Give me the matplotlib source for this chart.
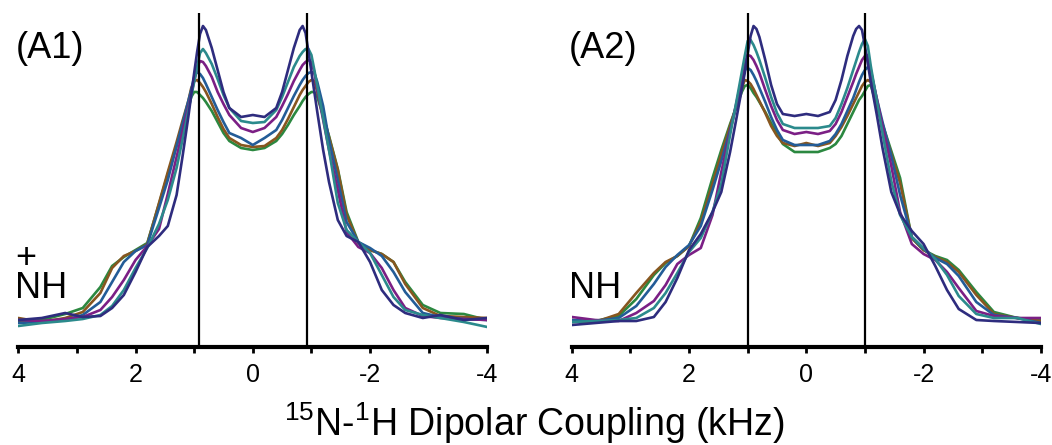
import numpy as np
import matplotlib
matplotlib.use('Agg')
import matplotlib.pyplot as plt
from matplotlib.ticker import FixedLocator

plt.rcParams['font.family'] = ['Liberation Sans', 'DejaVu Sans']
plt.rcParams['mathtext.fontset'] = 'custom'
plt.rcParams['mathtext.rm'] = 'Liberation Sans'
plt.rcParams['mathtext.it'] = 'Liberation Sans:italic'

# dipolar coupling (kHz) at which the traces were read
coupling = [4.0, 3.6, 3.2, 2.9, 2.6, 2.4, 2.2, 2.0, 1.8, 1.6, 1.45, 1.3, 1.2, 1.1, 1.05,
            1.0, 0.95, 0.9, 0.85, 0.8, 0.7, 0.6, 0.5, 0.4, 0.2, 0.0,
            -0.2, -0.4, -0.5, -0.6, -0.7, -0.8, -0.85, -0.9, -0.95, -1.0, -1.05, -1.1,
            -1.2, -1.3, -1.45, -1.6, -1.8, -2.0, -2.2, -2.4, -2.6, -2.9, -3.2, -3.6, -4.0]

# intensities (a.u.), panel A1  (+NH)
a1_navy = [25, 27, 32, 28, 29, 37, 50, 73, 98, 109, 119, 150, 188, 228, 250, 272, 293, 311, 319, 315, 297, 275, 253, 237, 228,
           230,
           228, 237, 253, 275, 297, 315, 319, 312, 293, 273, 253, 233, 195, 163, 125, 109, 103, 83, 55, 40, 32, 27, 30, 25, 27]
a1_teal = [19, 22, 24, 26, 30, 39, 55, 77, 97, 121, 145, 177, 205, 234, 249, 263, 278, 292, 296, 292, 281, 266, 250, 237, 224,
           222,
           223, 235, 248, 263, 278, 289, 293, 296, 296, 290, 275, 259, 227, 195, 142, 115, 103, 92, 70, 48, 35, 30, 27, 23, 18]
a1_purple = [25, 24, 26, 28, 35, 48, 65, 85, 99, 116, 151, 188, 213, 238, 251, 264, 277, 284, 283, 279, 268, 253, 241, 230, 217,
             213,
             217, 228, 239, 251, 264, 275, 280, 283, 285, 283, 273, 255, 225, 195, 155, 113, 98, 92, 77, 55, 37, 29, 27, 26, 25]
a1_blue = [22, 23, 25, 30, 43, 63, 83, 94, 100, 137, 165, 199, 221, 244, 255, 268, 273, 271, 267, 261, 248, 235, 223, 212, 207,
           200,
           207, 215, 225, 237, 249, 260, 265, 269, 272, 273, 272, 263, 239, 205, 165, 123, 103, 97, 89, 73, 53, 32, 28, 26, 25]
a1_brown = [27, 23, 27, 33, 52, 77, 89, 94, 101, 142, 173, 203, 224, 244, 257, 264, 265, 262, 258, 253, 241, 228, 216, 207, 200,
            198,
            199, 207, 215, 226, 238, 250, 255, 259, 263, 265, 264, 253, 230, 208, 175, 130, 102, 95, 91, 83, 61, 37, 29, 28, 27]
a1_green = [23, 25, 31, 37, 58, 79, 88, 95, 102, 141, 171, 199, 218, 237, 248, 253, 253, 250, 247, 243, 234, 223, 212, 204, 197,
            195,
            197, 204, 211, 220, 230, 239, 244, 248, 251, 253, 253, 248, 229, 209, 176, 133, 103, 95, 91, 83, 63, 40, 32, 31, 25]

# intensities (a.u.), panel A2  (NH)
a2_navy = [20, 22, 24, 24, 28, 43, 67, 95, 111, 133, 153, 193, 224, 256, 272, 291, 309, 319, 316, 308, 285, 260, 241, 231, 229,
           231,
           229, 233, 245, 265, 289, 309, 316, 319, 315, 299, 281, 263, 231, 197, 153, 131, 114, 101, 79, 55, 36, 25, 24, 23, 22]
a2_teal = [23, 24, 25, 27, 37, 52, 72, 93, 107, 133, 161, 210, 241, 273, 289, 304, 305, 300, 293, 285, 267, 248, 232, 221, 217,
           217,
           217, 219, 227, 241, 257, 275, 284, 293, 301, 306, 299, 279, 245, 212, 164, 130, 108, 97, 86, 70, 49, 31, 27, 27, 21]
a2_purple = [28, 25, 24, 32, 44, 60, 81, 90, 97, 130, 173, 213, 240, 267, 281, 290, 289, 285, 279, 272, 255, 239, 225, 215, 211,
             213,
             211, 214, 221, 233, 248, 263, 271, 278, 285, 289, 290, 275, 247, 219, 179, 133, 101, 91, 85, 73, 57, 34, 29, 27, 27]
a2_blue = [25, 24, 27, 39, 61, 78, 90, 100, 119, 155, 184, 215, 237, 261, 275, 277, 275, 270, 264, 257, 243, 228, 215, 205, 200,
           200,
           200, 204, 211, 221, 234, 247, 255, 263, 270, 275, 278, 273, 247, 223, 189, 150, 108, 96, 87, 81, 69, 43, 30, 27, 22]
a2_brown = [25, 23, 31, 52, 72, 83, 89, 99, 123, 161, 191, 219, 238, 257, 265, 264, 261, 256, 250, 244, 232, 219, 209, 202, 199,
            202,
            199, 202, 209, 218, 229, 241, 247, 253, 259, 263, 265, 263, 239, 220, 191, 162, 107, 95, 88, 83, 73, 50, 31, 27, 24]
a2_green = [23, 24, 29, 46, 70, 82, 89, 99, 127, 167, 195, 221, 237, 253, 259, 260, 257, 252, 248, 243, 233, 222, 211, 201, 193,
            193,
            193, 197, 201, 209, 221, 233, 239, 245, 249, 254, 259, 260, 239, 221, 194, 167, 107, 95, 89, 85, 75, 53, 33, 27, 25]

# marker lines (kHz)
a1_marks = [0.92, -0.92]
a2_marks = [1.0, -1.0]

colors = ['#2b8840', '#87561f', '#235c97', '#7b1f85', '#2b8a8c', '#2e2c7e']

W, H = 1052, 445
fig = plt.figure(figsize=(W / 100, H / 100), dpi=100)

panels = [
    (18.3, [a1_green, a1_brown, a1_blue, a1_purple, a1_teal, a1_navy], a1_marks, '(A1)', '+\nNH'),
    (571.8, [a2_green, a2_brown, a2_blue, a2_purple, a2_teal, a2_navy], a2_marks, '(A2)', 'NH'),
]

for left, traces, marks, label, group in panels:
    ax = fig.add_axes([left / W, (H - 346.5) / H, 469 / W, 333.5 / H])
    for tr, c in zip(traces, colors):
        ax.plot(coupling, tr, color=c, lw=1.9, solid_joinstyle='round', solid_capstyle='round')
    for m in marks:
        ax.axvline(m, color='black', lw=1.6)
    ax.set_xlim(4, -4)
    ax.set_ylim(-1.5, 332)
    for s in ['top', 'left', 'right']:
        ax.spines[s].set_visible(False)
    ax.spines['bottom'].set_linewidth(3.0)
    ax.set_yticks([])
    ax.xaxis.set_major_locator(FixedLocator([4, 2, 0, -2, -4]))
    ax.xaxis.set_minor_locator(FixedLocator([3, 1, -1, -3]))
    ax.set_xticklabels(['4', '2', '0', '-2', '-4'])
    ax.tick_params(axis='x', which='both', direction='out', length=4, width=2, pad=8, labelsize=18)
    ax.patch.set_alpha(0)

    fig.text(left / W - 3 / W, 1 - 58 / H, label, fontsize=26, va='baseline', ha='left')
    # last line (the group name) sits on its baseline near y = 299 px
    fig.text(left / W - 3 / W, 1 - 306 / H, group, fontsize=26, va='bottom', ha='left',
             linespacing=0.82)

fig.text(534 / W, 1 - 436 / H, r'$^{15}$N-$^{1}$H Dipolar Coupling (kHz)', fontsize=27,
         ha='center', va='baseline')

plt.savefig('out.png', dpi=100)
